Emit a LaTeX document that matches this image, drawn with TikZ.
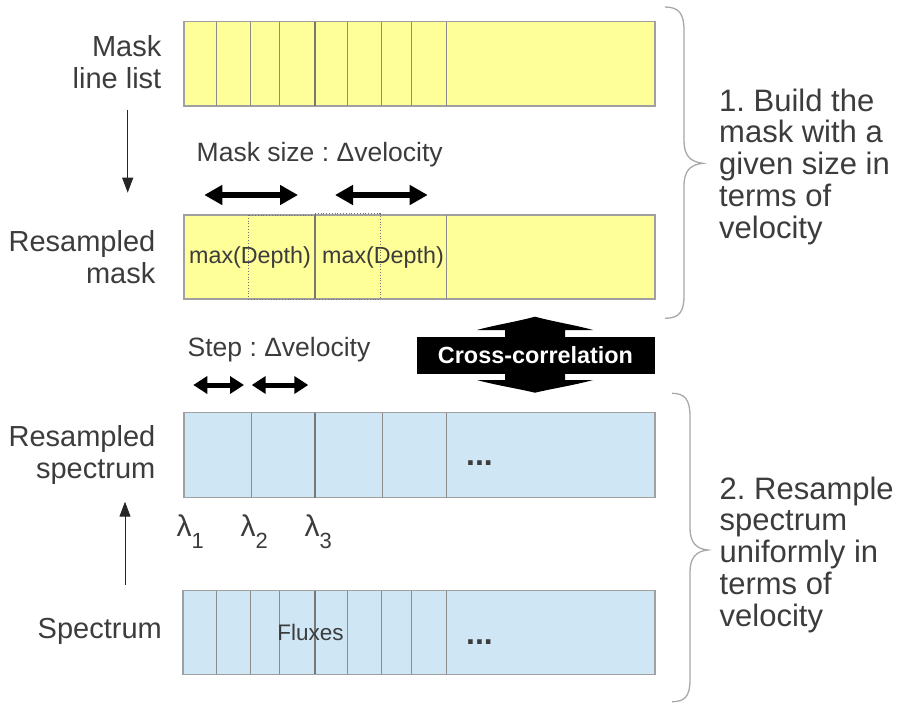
\documentclass[tikz,border=0pt]{standalone}
\usepackage{fontspec}
\setmainfont{Liberation Sans}
\usetikzlibrary{arrows.meta}
\definecolor{maskfill}{HTML}{FFFF99}
\definecolor{specfill}{HTML}{CFE6F4}
\definecolor{boxline}{HTML}{A0A0A0}
\definecolor{divline}{HTML}{8C8C8C}
\definecolor{txt}{HTML}{3C3C3C}
\definecolor{bracecol}{HTML}{A8A8A8}
\newcommand{\fs}[2]{\fontsize{#1}{#2}\selectfont}
\frenchspacing
\begin{document}
\begin{tikzpicture}[x=1pt,y=-1pt,
  cellbox/.style={draw=boxline, line width=1.4pt, inner sep=0pt, outer sep=0pt, anchor=north west},
  maskbox/.style={cellbox, fill=maskfill},
  specbox/.style={cellbox, fill=specfill},
  divider/.style={draw=divline, line width=0.9pt},
  mainsep/.style={draw=divline!85!black, line width=1.4pt},
  dotbox/.style={draw=divline!80!black, dotted, line width=0.8pt},
  leftlabel/.style={text=txt, font=\fs{29}{31.7}, align=right, inner sep=0pt, anchor=east},
  sidetext/.style={text=txt, font=\fs{31}{31.7}, align=left, inner sep=0pt, anchor=west},
  toplabel/.style={text=txt, font=\fs{26.5}{30}, inner sep=0pt, anchor=base west},
  celltext/.style={text=txt, font=\fs{23.3}{26}, inner sep=0pt, anchor=base},
  dots/.style={text=txt, font=\bfseries\fs{32}{34}, inner sep=0pt, anchor=base west},
  lam/.style={text=txt, font=\fs{30}{32}, inner sep=0pt, anchor=base west},
  bigdbl/.style={line width=6pt, {Triangle[length=18pt,width=19pt]}-{Triangle[length=18pt,width=19pt]}},
  smalldbl/.style={line width=5pt, {Triangle[length=14pt,width=17pt]}-{Triangle[length=14pt,width=17pt]}},
  thinarrow/.style={draw=black!85, line width=1pt, -{Triangle[length=15pt,width=11pt]}},
  bracestyle/.style={draw=bracecol, line width=1.3pt}
]
\useasboundingbox (0,0) rectangle (909,704);

% ---------- boxes ----------
\node[maskbox, minimum width=471pt, minimum height=84.3pt] (mask) at (184,21.7) {};
\node[maskbox, minimum width=471pt, minimum height=84pt] (rmask) at (184,215) {};
\node[specbox, minimum width=471pt, minimum height=85pt] (rspec) at (184,412.7) {};
\node[specbox, minimum width=472pt, minimum height=83.6pt] (spec) at (183,590.7) {};

% mask line list dividers
\foreach \xx in {216.7,250.3,279.3,347.3,381.3,411,446.3}
  \draw[divider] (\xx,21.7) -- (\xx,106);
\draw[mainsep] (315,21.7) -- (315,106);

% resampled mask dividers
\draw[dotbox] (248.3,215) rectangle (315,299);
\draw[dotbox] (315,213.8) rectangle (380,299);
\draw[mainsep] (315,215) -- (315,299);
\draw[divider] (446.3,215) -- (446.3,299);

% resampled spectrum dividers
\foreach \xx in {251.7,382.3,446.3}
  \draw[divider] (\xx,412.7) -- (\xx,497.7);
\draw[mainsep] (315,412.7) -- (315,497.7);

% spectrum dividers
\foreach \xx in {216.7,250.3,279.3,347.3,381.3,411,446.3}
  \draw[divider] (\xx,590.7) -- (\xx,674.3);
\draw[mainsep] (315,590.7) -- (315,674.3);

% ---------- cell texts ----------
\node[celltext] (md1) at (250,263.3) {max(Depth)};
\node[celltext] (md2) at (383,263.3) {max(Depth)};
\node[celltext, font=\fs{22.5}{25}] (flux) at (310.5,640) {Fluxes};
\node[dots] (dots1) at (466,465) {...};
\node[dots] (dots2) at (466,644) {...};

% ---------- left labels ----------
\node[leftlabel] (lmask) at (161.5,62.4) {Mask\\line list};
\node[leftlabel] (lrmask) at (155.5,257) {Resampled\\mask};
\node[leftlabel] (lrspec) at (155.5,455) {Resampled\\spectrum};
\node[leftlabel] (lspec) at (162,631.5) {Spectrum};

\coordinate (d1s) at (127.7,110);
\coordinate (d1e) at (127.7,192.7);
\draw[thinarrow] (d1s) -- (d1e);
\coordinate (u1s) at (125,585);
\coordinate (u1e) at (125,501.7);
\draw[thinarrow] (u1s) -- (u1e);

% ---------- top labels and double arrows ----------
\node[toplabel] (msize) at (196.5,161) {Mask size : Δvelocity};
\node[toplabel] (step) at (187.5,356) {Step : Δvelocity};

\coordinate (ma1) at (204.3,195);
\coordinate (mb1) at (298,195);
\coordinate (ma2) at (335,195);
\coordinate (mb2) at (427.7,195);
\draw[bigdbl] (ma1) -- (mb1);
\draw[bigdbl] (ma2) -- (mb2);

\coordinate (sa1) at (193.3,385);
\coordinate (sb1) at (244,385);
\coordinate (sa2) at (251.7,385);
\coordinate (sb2) at (308.3,385);
\draw[smalldbl] (sa1) -- (sb1);
\draw[smalldbl] (sa2) -- (sb2);

% ---------- lambda labels ----------
\node[lam] (l1) at (176.5,536.7) {λ\raisebox{-12pt}{\fs{22}{24}1}};
\node[lam] (l2) at (240.5,536.7) {λ\raisebox{-12pt}{\fs{22}{24}2}};
\node[lam] (l3) at (304.5,536.7) {λ\raisebox{-12pt}{\fs{22}{24}3}};

% ---------- cross-correlation ----------
\fill[black] (535,316.7) .. controls (555,322) and (575,325) .. (593,330)
  -- (565,330) -- (565,380) -- (593,380)
  .. controls (575,385) and (555,388) .. (535,392.7)
  .. controls (515,388) and (495,385) .. (477,380)
  -- (505,380) -- (505,330) -- (477,330)
  .. controls (495,325) and (515,322) .. cycle;
\node[fill=black, text=white, font=\bfseries\fs{23.4}{26}, minimum width=238pt, minimum height=37pt, inner sep=0pt] (cc) at (535.5,355.3) {Cross-correlation};

% ---------- braces ----------
\draw[bracestyle] (665,7) .. controls (679,7) and (684,14) .. (684,30)
  -- (684,141) .. controls (684,155) and (690,162) .. (703,163.3)
  .. controls (690,164.6) and (684,171) .. (684,186)
  -- (684,296) .. controls (684,312) and (679,318.3) .. (665,318.3);
\draw[bracestyle] (672,393.3) .. controls (685,393.3) and (690,400) .. (690,416)
  -- (690,528) .. controls (690,542) and (696,549) .. (708,550)
  .. controls (696,551) and (690,558) .. (690,572)
  -- (690,680) .. controls (690,696) and (685,701.7) .. (672,701.7);

\node[sidetext] (t1) at (719,166.6) {1. Build the\\mask with a\\given size in\\terms of\\velocity};
\node[sidetext] (t2) at (719.5,554.6) {2. Resample\\spectrum\\uniformly in\\terms of\\velocity};
\end{tikzpicture}
\end{document}
